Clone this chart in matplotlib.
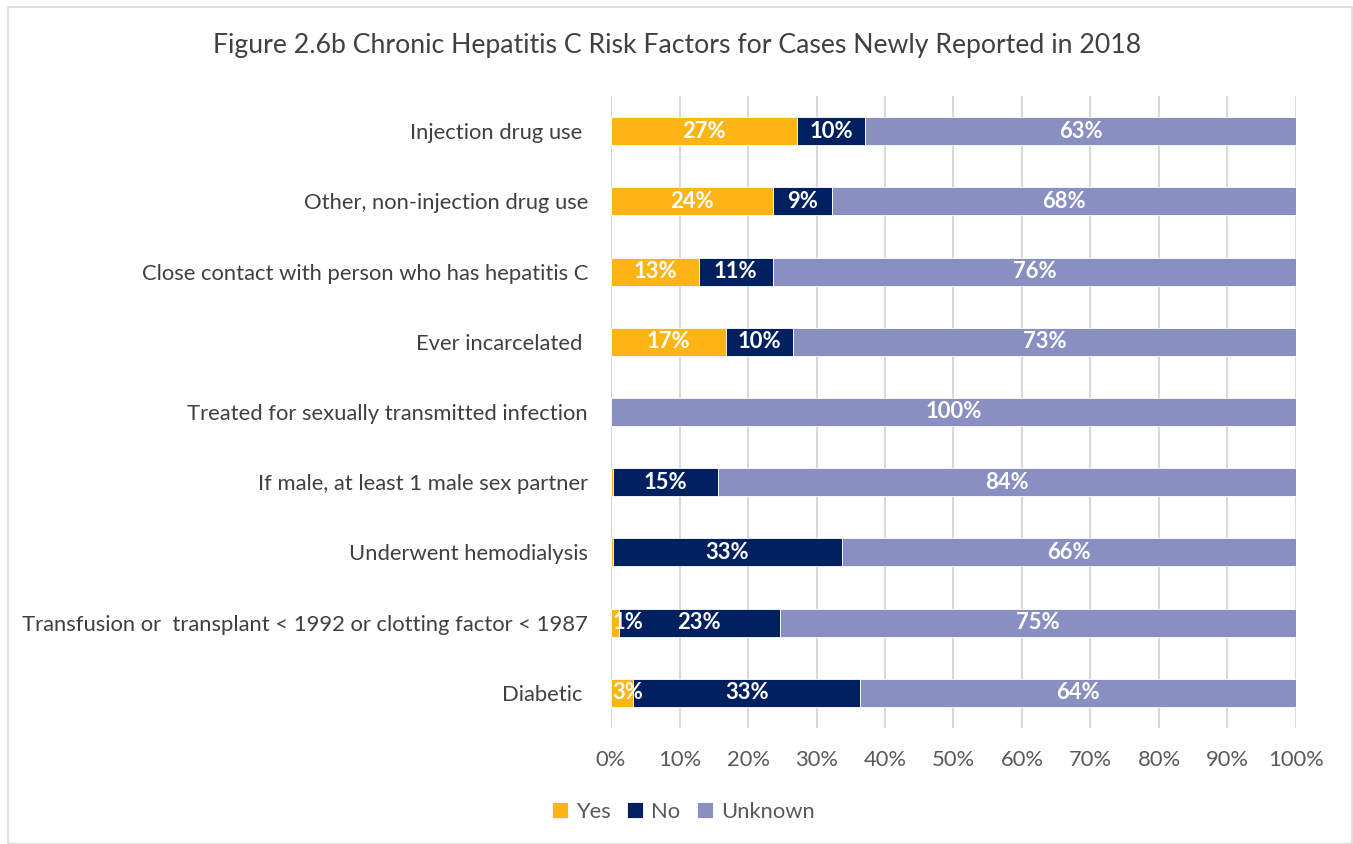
import matplotlib
matplotlib.use("Agg")
import matplotlib.pyplot as plt
from matplotlib.patches import Rectangle
import numpy as np

categories = [
    "Injection drug use ",
    "Other, non-injection drug use",
    "Close contact with person who has hepatitis C",
    "Ever incarcelated ",
    "Treated for sexually transmitted infection",
    "If male, at least 1 male sex partner",
    "Underwent hemodialysis",
    "Transfusion or  transplant < 1992 or clotting factor < 1987",
    "Diabetic ",
]
yes = [27.2, 23.6, 12.8, 16.8, 0.0, 0.3, 0.3, 1.2, 3.2]
no = [9.9, 8.7, 10.8, 9.8, 0.0, 15.3, 33.4, 23.4, 33.2]
unknown = [62.9, 67.7, 76.4, 73.4, 100.0, 84.4, 66.3, 75.4, 63.6]
series_names = ["Yes", "No", "Unknown"]
colors = ["#FDB515", "#002060", "#8A8FC2"]
xticks = np.arange(0, 101, 10)

FONT = "Lato"
plt.rcParams["font.family"] = [FONT, "DejaVu Sans"]
FS = 15.8

fig = plt.figure(figsize=(13.53, 8.44), dpi=100)
W, H = 1353, 844
ax = fig.add_axes([611 / W, 1 - 728 / H, (1296 - 611) / W, (728 - 96) / H])

y = np.arange(len(categories))
left = np.zeros(len(categories))
for vals, name, col in zip([yes, no, unknown], series_names, colors):
    vals = np.array(vals)
    ax.barh(y, vals, left=left, height=0.4, color=col, edgecolor="white",
            linewidth=0.6, label=name, zorder=3)
    for yi, (l, v) in enumerate(zip(left, vals)):
        if v >= 0.5:
            if l == 0 and v < 5:
                ax.text(0.25, yi, f"{v:.0f}%", ha="left", va="center",
                        color="white", fontsize=FS, fontweight="bold", zorder=4)
            else:
                ax.text(l + v / 2, yi, f"{v:.0f}%", ha="center", va="center",
                        color="white", fontsize=FS, fontweight="bold", zorder=4)
    left = left + vals

ax.set_xlim(0, 100)
ax.set_ylim(len(categories) - 0.5, -0.5)
ax.set_xticks(xticks)
ax.set_xticklabels([f"{t}%" for t in xticks], fontsize=FS, color="#595959")
ax.set_yticks(y)
ax.set_yticklabels(categories, fontsize=FS, color="#404040")
ax.tick_params(axis="both", length=0)
ax.tick_params(axis="x", pad=16)
ax.tick_params(axis="y", pad=16.5)
ax.grid(axis="x", color="#D9D9D9", linewidth=1.5, zorder=0)
for s in ax.spines.values():
    s.set_visible(False)

fig.text(677 / W, 1 - 45 / H, "Figure 2.6b Chronic Hepatitis C Risk Factors for Cases Newly Reported in 2018",
         ha="center", va="center", fontsize=19.2, color="#404040")

fig.legend(loc="center", bbox_to_anchor=(683 / W, 1 - 812 / H), ncol=3, frameon=False,
           fontsize=FS, handlelength=0.75, handleheight=0.75, handletextpad=0.35,
           columnspacing=0.75, labelcolor="#595959")

fig.patches.append(Rectangle((8 / W, 0), (1352 - 8) / W, 1 - 7 / H, transform=fig.transFigure,
                             fill=False, edgecolor="#D9D9D9", linewidth=1.2))

fig.savefig("out.png", dpi=100)
